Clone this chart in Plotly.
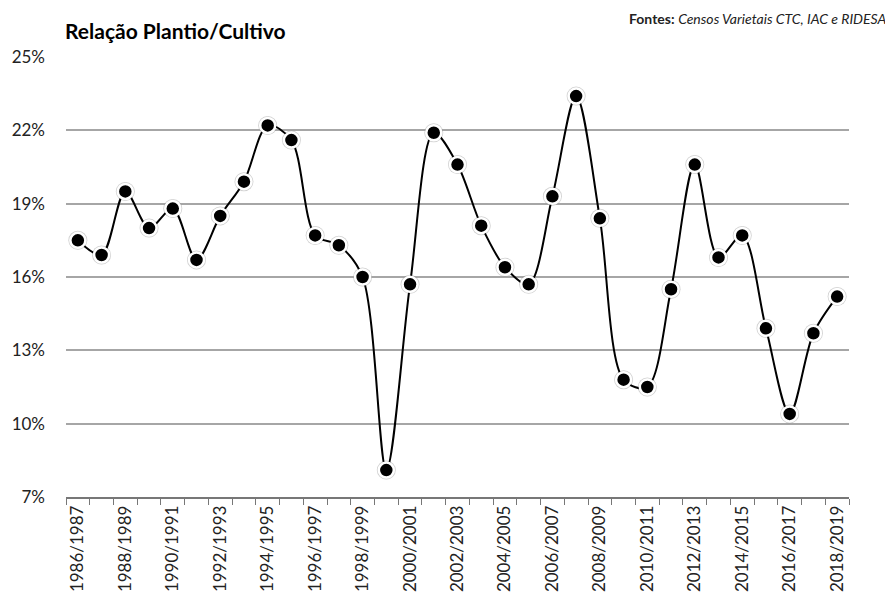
import plotly.graph_objects as go

seasons = [f"{y}/{y+1}" for y in range(1986, 2019)]
values = [17.5, 16.9, 19.5, 18.0, 18.8, 16.7, 18.5, 19.9, 22.2, 21.6,
          17.7, 17.3, 16.0, 8.1, 15.7, 21.9, 20.6, 18.1, 16.4, 15.7,
          19.3, 23.4, 18.4, 11.8, 11.5, 15.5, 20.6, 16.8, 17.7, 13.9,
          10.4, 13.7, 15.2]
y_ticks = [7, 10, 13, 16, 19, 22, 25]
y_ticktext = [f"{v}%" for v in y_ticks]

FONT = "Lato, 'Open Sans', sans-serif"

fig = go.Figure()
# soft shadow halo
fig.add_trace(go.Scatter(
    x=seasons, y=values, mode="markers",
    marker=dict(size=19, color="rgba(150,150,150,0.45)", line=dict(width=0)),
    hoverinfo="skip", showlegend=False))
fig.add_trace(go.Scatter(
    x=seasons, y=values, mode="lines+markers",
    line=dict(color="black", width=2, shape="spline", smoothing=0.9),
    marker=dict(size=15, color="black", line=dict(color="white", width=2.5)),
    showlegend=False))

fig.update_layout(
    width=893, height=604,
    margin=dict(l=58, r=52, t=49, b=115, autoexpand=False),
    paper_bgcolor="white", plot_bgcolor="white",
    font=dict(family=FONT, color="#222"),
    annotations=[
        dict(text="<b>Relação Plantio/Cultivo</b>", xref="paper", yref="paper",
             x=0, xshift=-3, y=1, yshift=12, xanchor="left", yanchor="bottom",
             showarrow=False, font=dict(size=21, color="black")),
        dict(text="<b>Fontes:</b> <i>Censos Varietais CTC, IAC e RIDESA</i>",
             xref="paper", yref="paper", x=1, xshift=40, y=1, yshift=28,
             xanchor="right", yanchor="bottom", showarrow=False,
             font=dict(size=14, color="#222")),
    ],
)
fig.update_xaxes(
    type="category", tickangle=-90, ticklabelstep=2, automargin=False,
    range=[-0.5, 32.5],
    tickson="boundaries", ticks="outside", ticklen=6, tickcolor="#777",
    showline=True, linecolor="#777", linewidth=1.5,
    showgrid=False, tickfont=dict(size=17, color="#222"),
)
fig.update_yaxes(
    range=[7, 25], tickvals=y_ticks, ticktext=y_ticktext, automargin=False,
    showgrid=True, gridcolor="#a6a6a6", gridwidth=2,
    zeroline=False, showline=False, ticks="", ticklen=0,
    ticklabelstandoff=20,
    tickfont=dict(size=17, color="#222"),
)
fig.write_html("out.html")
